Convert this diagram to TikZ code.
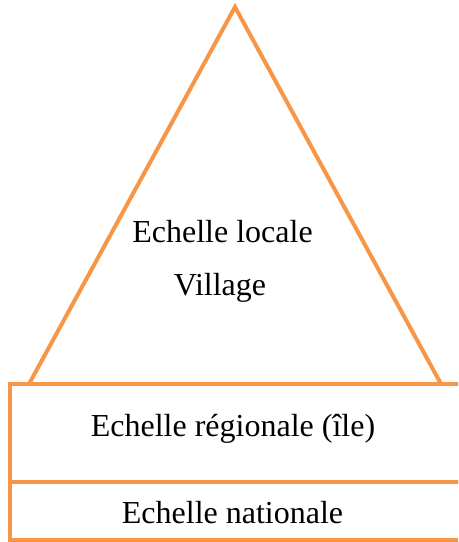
\documentclass[tikz,border=0pt]{standalone}
\usepackage{fontspec}
\setmainfont{Liberation Serif}
\usetikzlibrary{positioning, calc}
\definecolor{PyramidOrange}{HTML}{F79646}

\begin{document}
\begin{tikzpicture}[x=0.75pt, y=-0.75pt, line width=3pt,
    label text/.style={anchor=base, font=\fontsize{24}{29}\selectfont}]
        \useasboundingbox (0,0) rectangle (458,542);
        \clip (0,0) rectangle (458,542);
        % Triangle on top of the levels
        \coordinate (apex) at (235,7);
        \coordinate (baseL) at (29,384);
        \coordinate (baseR) at (441,384);
        \draw [PyramidOrange, line join=miter] (baseL) -- (apex) -- (baseR);
        % Lower levels, running off the right edge
        \draw [PyramidOrange] (9.5,384) rectangle (475,482);
        \draw [PyramidOrange] (9.5,482) rectangle (475,539.5);
        % Labels
        \node [label text] (local) at (222.5,242) {Echelle locale};
        \node [label text] (village) at (220,295) {Village};
        \node [label text] (regional) at (233,436) {Echelle régionale (île)};
        \node [label text] (national) at (232.5,523) {Echelle nationale};
    \end{tikzpicture}
\end{document}
